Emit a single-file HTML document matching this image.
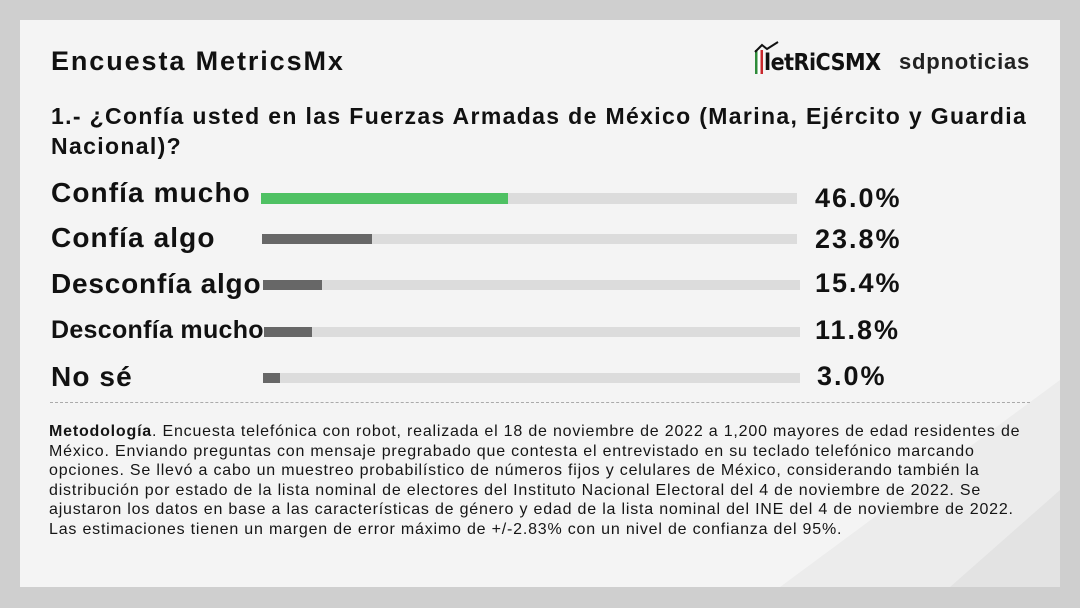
<!DOCTYPE html>
<html><head><meta charset="utf-8"><style>
*{margin:0;padding:0;box-sizing:border-box}
body{width:1080px;height:608px;background:#cfcfcf;position:relative;overflow:hidden;font-family:"Liberation Sans",sans-serif;color:#111}
#card{position:absolute;left:20px;top:20px;width:1040px;height:567px;background:#f4f4f4;overflow:hidden}
.a{position:absolute;white-space:nowrap}
.lab{position:absolute;left:31px;font-weight:bold;font-size:28px;letter-spacing:1.1px}
.pct{position:absolute;font-weight:bold;font-size:27px;letter-spacing:2px}
.bar{position:absolute;height:10px;background:#dcdcdc}
.bar i{position:absolute;left:0;top:0;height:100%;background:#676767}
</style></head><body>
<div id="card">
<svg style="position:absolute;left:0;top:0" width="1040" height="567">
<polygon points="1040,360 1040,567 760,567" fill="#ececec"/>
<polygon points="1040,470 1040,567 930,567" fill="#e3e3e3"/>
</svg>
<div class="a" style="left:31px;top:26px;font-size:27px;font-weight:bold;letter-spacing:1.9px">Encuesta MetricsMx</div>
<div class="a" style="left:735px;top:30px;width:8px;height:24px;background:linear-gradient(90deg,#2e8b3a 33%,#fff 33% 66%,#c8282d 66%)"></div>
<div class="a" style="left:744px;top:30px;font-size:23px;font-weight:bold;letter-spacing:-0.5px;font-family:'DejaVu Sans Condensed','Liberation Sans',sans-serif">letRiCSMX</div>
<svg class="a" style="left:734px;top:20px" width="30" height="14"><polyline points="1,12 8,5 13,9 24,2" fill="none" stroke="#111" stroke-width="2"/></svg>
<div class="a" style="left:879px;top:29px;font-size:22px;font-weight:bold;color:#222;letter-spacing:0.8px">sdpnoticias</div>
<div class="a" style="left:31px;top:81px;font-size:23px;font-weight:bold;line-height:30px;letter-spacing:1.35px">1.- ¿Confía usted en las Fuerzas Armadas de México (Marina, Ejército y Guardia<br>Nacional)?</div>
<div class="lab" style="top:157px">Confía mucho</div>
<div class="lab" style="top:202px">Confía algo</div>
<div class="lab" style="top:248px;letter-spacing:0.8px">Desconfía algo</div>
<div class="lab" style="top:296px;font-size:25px;letter-spacing:0.3px">Desconfía mucho</div>
<div class="lab" style="top:341px">No sé</div>
<div class="bar" style="left:241px;top:173px;width:536px;height:11px"><i style="width:247px;background:#4fc163"></i></div>
<div class="bar" style="left:242px;top:214px;width:535px"><i style="width:110px"></i></div>
<div class="bar" style="left:243px;top:260px;width:537px"><i style="width:59px"></i></div>
<div class="bar" style="left:244px;top:307px;width:536px"><i style="width:48px"></i></div>
<div class="bar" style="left:243px;top:353px;width:537px"><i style="width:17px"></i></div>
<div class="pct" style="left:795px;top:163px">46.0%</div>
<div class="pct" style="left:795px;top:204px">23.8%</div>
<div class="pct" style="left:795px;top:248px">15.4%</div>
<div class="pct" style="left:795px;top:295px">11.8%</div>
<div class="pct" style="left:797px;top:341px">3.0%</div>
<div class="a" style="left:30px;top:382px;width:980px;border-top:1px dashed #aaa"></div>
<div class="a" style="left:29px;top:402px;font-size:16px;line-height:19.5px;color:#151515;letter-spacing:0.8px">
<b>Metodología</b>. Encuesta telefónica con robot, realizada el 18 de noviembre de 2022 a 1,200 mayores de edad residentes de<br>México. Enviando preguntas con mensaje pregrabado que contesta el entrevistado en su teclado telefónico marcando<br>opciones. Se llevó a cabo un muestreo probabilístico de números fijos y celulares de México, considerando también la<br>distribución por estado de la lista nominal de electores del Instituto Nacional Electoral del 4 de noviembre de 2022. Se<br>ajustaron los datos en base a las características de género y edad de la lista nominal del INE del 4 de noviembre de 2022.<br>Las estimaciones tienen un margen de error máximo de +/-2.83% con un nivel de confianza del 95%.</div>
</div>
</body></html>
